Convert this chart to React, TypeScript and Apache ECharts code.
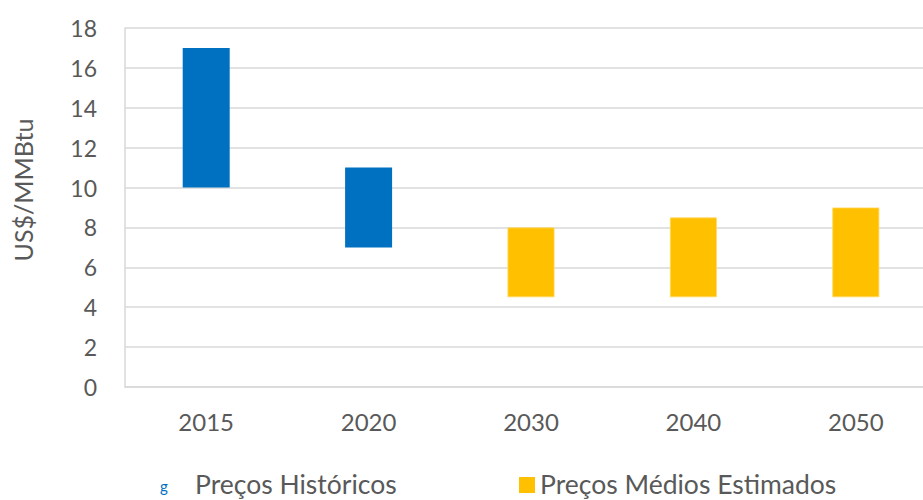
import React, { useEffect, useRef } from "react";
import * as echarts from "echarts";

const categories = ["2015", "2020", "2030", "2040", "2050"];
const lowValues = [10, 7, 4.5, 4.5, 4.5];
const highValues = [17, 11, 8, 8.5, 9];
const isHistorical = [true, true, false, false, false];
const yTicks = { min: 0, max: 18, interval: 2 };
const seriesNames = ["Preços Históricos", "Preços Médios Estimados"];

const FONT = "Lato, 'Open Sans', sans-serif";
const TXT = "#595959";

export default function App() {
  const ref = useRef<HTMLDivElement>(null);
  useEffect(() => {
    if (!ref.current) return;
    const chart = echarts.init(ref.current, null, { renderer: "svg" });
    const hist = highValues.map((h, i) => (isHistorical[i] ? h - lowValues[i] : "-"));
    const est = highValues.map((h, i) => (!isHistorical[i] ? h - lowValues[i] : "-"));
    chart.setOption({
      animation: false,
      backgroundColor: "#ffffff",
      textStyle: { fontFamily: FONT },
      grid: {
        left: 125,
        top: 28,
        height: 359,
        width: 812,
        containLabel: false,
        outerBoundsMode: "none",
      },
      xAxis: {
        type: "category",
        data: categories,
        axisLine: { show: true, lineStyle: { color: "#D9D9D9", width: 1.5 } },
        axisTick: { show: false },
        axisLabel: { color: TXT, fontSize: 24, fontFamily: FONT, margin: 22 },
      },
      yAxis: {
        type: "value",
        min: yTicks.min,
        max: yTicks.max,
        interval: yTicks.interval,
        axisLine: { show: true, lineStyle: { color: "#D9D9D9", width: 1.5 } },
        axisTick: { show: false },
        axisLabel: { color: TXT, fontSize: 23, fontFamily: FONT, margin: 28 },
        splitLine: { show: true, lineStyle: { color: "#D9D9D9", width: 1.5 } },
      },
      series: [
        {
          type: "bar",
          stack: "range",
          data: lowValues,
          barWidth: 47,
          itemStyle: { color: "transparent" },
          silent: true,
        },
        {
          name: seriesNames[0],
          type: "bar",
          stack: "range",
          data: hist,
          barWidth: 47,
          itemStyle: { color: "#0070C0" },
        },
        {
          name: seriesNames[1],
          type: "bar",
          stack: "range",
          data: est,
          barWidth: 47,
          itemStyle: { color: "#FFC000", borderColor: "#FFD966", borderWidth: 0.8 },
        },
      ],
      graphic: [
        {
          type: "text",
          x: 23,
          y: 190,
          rotation: Math.PI / 2,
          style: {
            text: "US$/MMBtu",
            fill: TXT,
            font: `25px ${FONT}`,
            align: "center",
            verticalAlign: "middle",
          },
        },
        {
          type: "text",
          x: 160,
          y: 486,
          style: { text: "g", fill: "#0070C0", font: `15px ${FONT}`, align: "left", verticalAlign: "middle" },
        },
        {
          type: "text",
          x: 195,
          y: 484,
          style: { text: seriesNames[0], fill: TXT, font: `26.5px ${FONT}`, align: "left", verticalAlign: "middle" },
        },
        {
          type: "rect",
          shape: { x: 519, y: 477, width: 16, height: 16 },
          style: { fill: "#FFC000" },
        },
        {
          type: "text",
          x: 540,
          y: 484,
          style: { text: seriesNames[1], fill: TXT, font: `26.5px ${FONT}`, align: "left", verticalAlign: "middle" },
        },
      ],
    });
    return () => chart.dispose();
  }, []);
  return (
    <div
      ref={ref}
      style={{ position: "fixed", left: 0, top: 0, width: 923, height: 500, background: "#fff" }}
    />
  );
}
